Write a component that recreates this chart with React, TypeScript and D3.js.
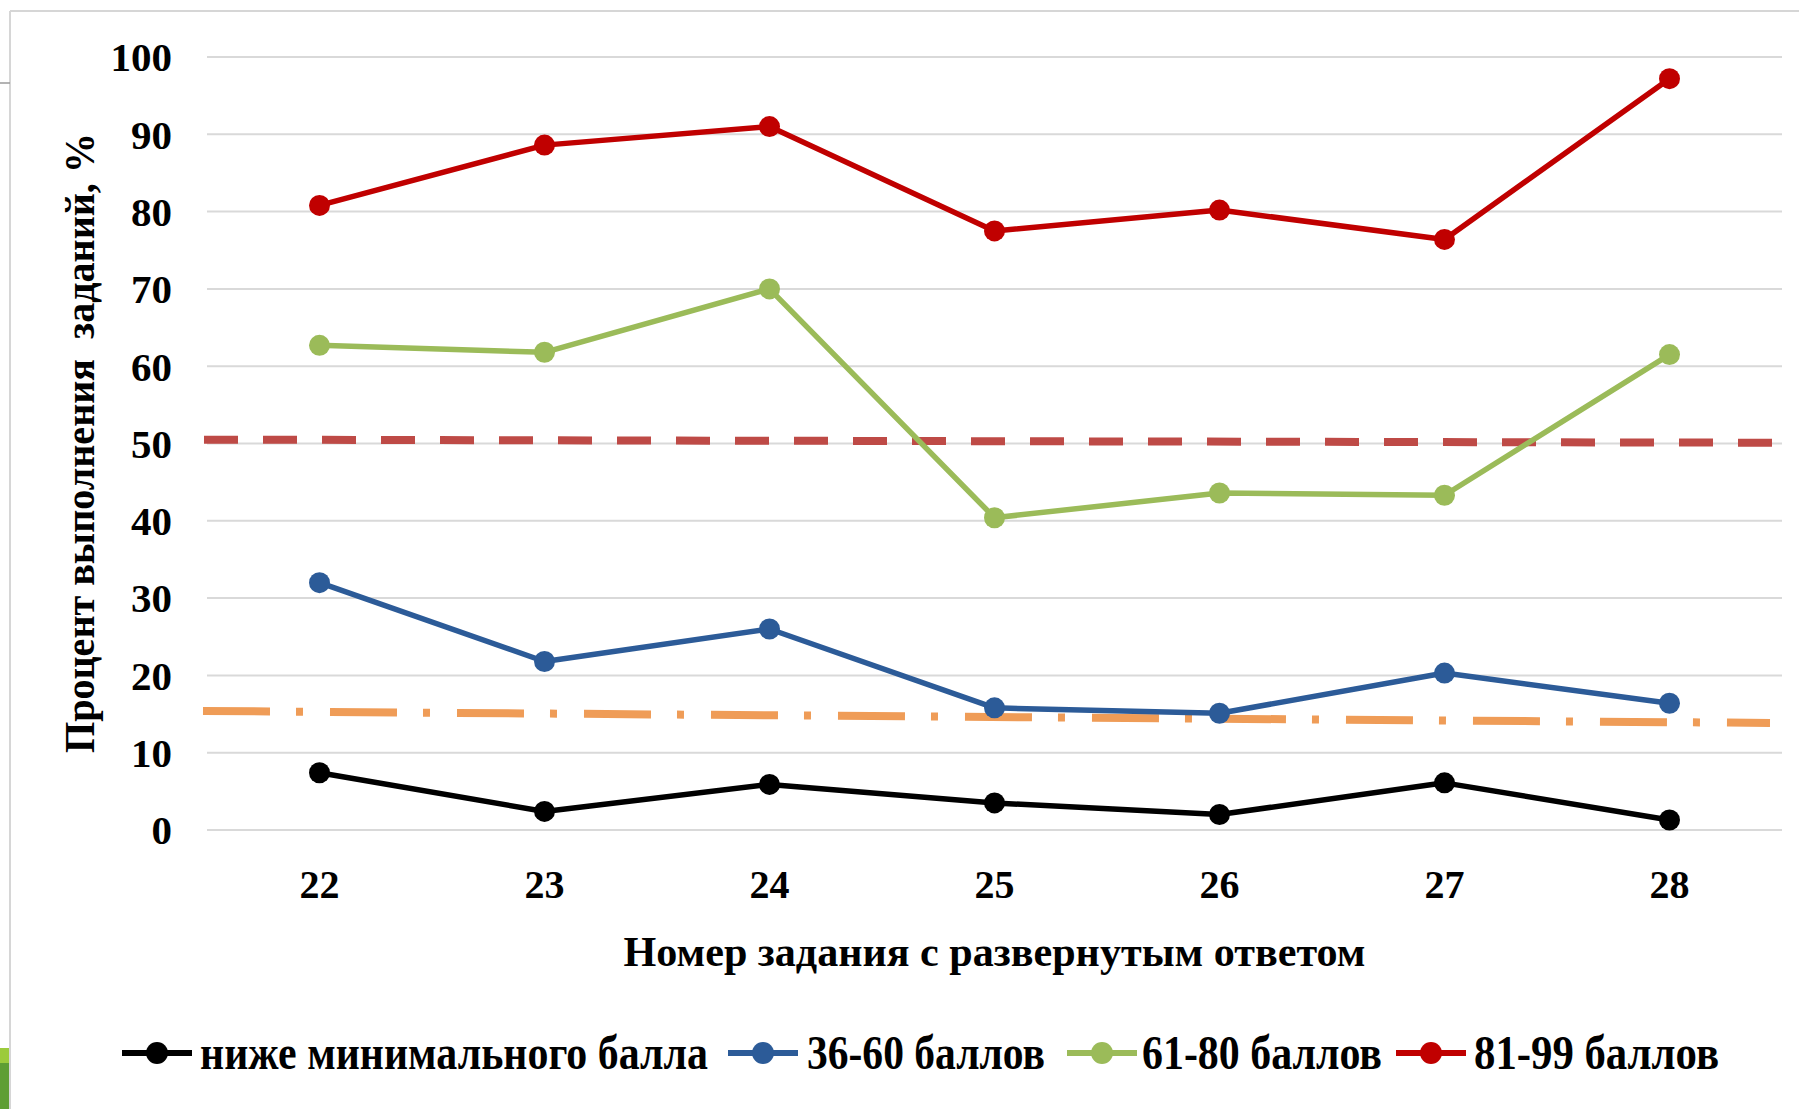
import React from "react";
import * as d3 from "d3";

// Task numbers (long-answer tasks)
const tasks = ["22", "23", "24", "25", "26", "27", "28"];

// Completion percentage per score group
const belowMin = [7.4, 2.4, 5.9, 3.5, 2.0, 6.1, 1.3];
const score36to60 = [32.0, 21.8, 26.0, 15.8, 15.1, 20.3, 16.4];
const score61to80 = [62.7, 61.8, 70.0, 40.4, 43.6, 43.3, 61.5];
const score81to99 = [80.8, 88.6, 91.0, 77.5, 80.2, 76.4, 97.2];

const seriesNames = ["ниже минимального балла", "36-60 баллов", "61-80 баллов", "81-99 баллов"];
const seriesColors = ["#000000", "#2C5B98", "#9BBB59", "#C00000"];

// Reference levels (start value, end value)
const upperLevel = [50.5, 50.1];
const lowerLevel = [15.4, 13.85];

const yTicks = [0, 10, 20, 30, 40, 50, 60, 70, 80, 90, 100];

const W = 1799;
const H = 1109;
const FONT = "'Liberation Serif', 'Times New Roman', serif";

export default function App() {
  const x = d3.scaleBand<string>().domain(tasks).range([207, 1782]);
  const cx = (t: string) => (x(t) as number) + x.bandwidth() / 2;
  const y = d3.scaleLinear().domain([0, 100]).range([830, 57]);
  const [x0, x1] = x.range();

  const seriesData = [belowMin, score36to60, score61to80, score81to99];
  const line = d3
    .line<number>()
    .x((_, i) => cx(tasks[i]))
    .y((d) => y(d));

  const legendItems = [
    { lineStart: 122, textStart: 200, textLen: 508 },
    { lineStart: 728, textStart: 807, textLen: 238 },
    { lineStart: 1067, textStart: 1142, textLen: 240 },
    { lineStart: 1396, textStart: 1474, textLen: 245 },
  ];
  const legendY = 1053;

  return (
    <svg
      width={W}
      height={H}
      style={{ position: "absolute", left: 0, top: 0, background: "#fff", display: "block" }}
      fontFamily={FONT}
    >
      {/* slide frame */}
      <rect x={0} y={0} width={W} height={H} fill="#ffffff" />
      <line x1={10} y1={11} x2={W} y2={11} stroke="#d6d6d6" strokeWidth={2} />
      <line x1={10} y1={11} x2={10} y2={H} stroke="#d6d6d6" strokeWidth={2} />
      <line x1={0} y1={83} x2={10} y2={83} stroke="#9a9a9a" strokeWidth={1.5} />
      <rect x={0} y={1048} width={9} height={15} fill="#9CCB3C" />
      <rect x={0} y={1063} width={9} height={H - 1063} fill="#5E9E34" />

      {/* gridlines */}
      {yTicks.map((t) => (
        <line key={"g" + t} x1={x0} x2={x1} y1={y(t)} y2={y(t)} stroke="#d9d9d9" strokeWidth={2} />
      ))}

      {/* y tick labels */}
      {yTicks.map((t) => (
        <text
          key={"yt" + t}
          x={172}
          y={y(t)}
          dy="0.35em"
          textAnchor="end"
          fontSize={41}
          fontWeight="bold"
          fill="#000"
        >
          {t}
        </text>
      ))}

      {/* x tick labels */}
      {tasks.map((t) => (
        <text key={"xt" + t} x={cx(t)} y={898} textAnchor="middle" fontSize={40} fontWeight="bold" fill="#000">
          {t}
        </text>
      ))}

      {/* axis titles */}
      <text
        transform="translate(94, 443) rotate(-90)"
        textAnchor="middle"
        fontSize={42}
        fontWeight="bold"
        fill="#000"
        textLength={620}
        lengthAdjust="spacingAndGlyphs"
        style={{ whiteSpace: "pre" }}
      >
        {"Процент выполнения  заданий, %"}
      </text>
      <text
        x={(x0 + x1) / 2}
        y={966}
        textAnchor="middle"
        fontSize={42}
        fontWeight="bold"
        fill="#000"
        textLength={742}
        lengthAdjust="spacingAndGlyphs"
      >
        Номер задания с развернутым ответом
      </text>

      {/* reference levels */}
      <line
        x1={x0 - 3}
        x2={x1 - 10}
        y1={y(upperLevel[0])}
        y2={y(upperLevel[1])}
        stroke="#BE4A46"
        strokeWidth={8}
        strokeDasharray="34 25"
      />
      <line
        x1={x0 - 4}
        x2={x1 - 12}
        y1={y(lowerLevel[0])}
        y2={y(lowerLevel[1])}
        stroke="#EF9C57"
        strokeWidth={8}
        strokeDasharray="67 26 7 27"
      />

      {/* series */}
      {seriesData.map((vals, si) => (
        <g key={"s" + si}>
          <path d={line(vals) as string} fill="none" stroke={seriesColors[si]} strokeWidth={5.5} strokeLinejoin="round" />
          {vals.map((v, i) => (
            <circle key={i} cx={cx(tasks[i])} cy={y(v)} r={10.5} fill={seriesColors[si]} />
          ))}
        </g>
      ))}

      {/* legend */}
      {legendItems.map((it, i) => (
        <g key={"l" + i}>
          <line
            x1={it.lineStart}
            x2={it.lineStart + 70}
            y1={legendY}
            y2={legendY}
            stroke={seriesColors[i]}
            strokeWidth={6}
          />
          <circle cx={it.lineStart + 35} cy={legendY} r={11} fill={seriesColors[i]} />
          <text
            x={it.textStart}
            y={legendY + 16}
            fontSize={49}
            fontWeight="bold"
            fill="#000"
            textLength={it.textLen}
            lengthAdjust="spacingAndGlyphs"
          >
            {seriesNames[i]}
          </text>
        </g>
      ))}
    </svg>
  );
}
